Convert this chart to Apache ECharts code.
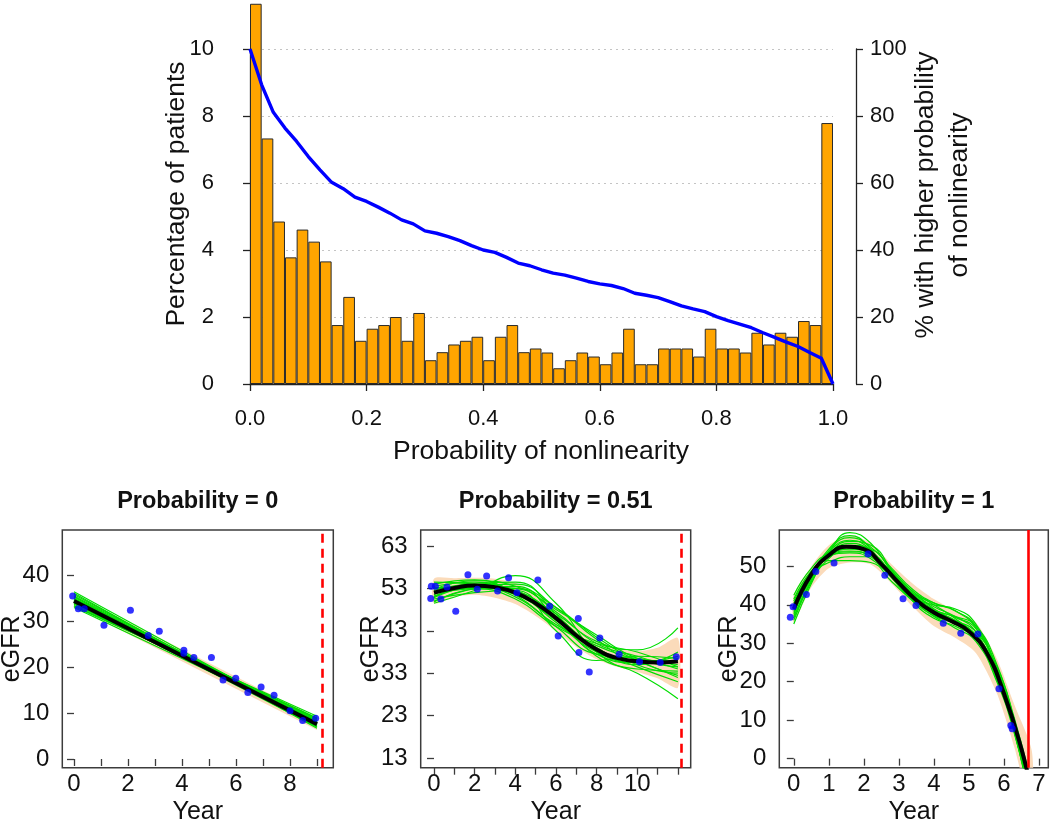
<!DOCTYPE html>
<html>
<head>
<meta charset="utf-8">
<script src="https://cdn.jsdelivr.net/npm/echarts@6/dist/echarts.min.js"></script>
<style>
  html, body { margin: 0; padding: 0; background: #fff; }
  #chart { width: 1050px; height: 822px; }
</style>
</head>
<body>
<div id="chart"></div>
<script>
// ---------------- DATA ----------------
// Top panel: histogram bin edges and % of patients per bin
const probEdges = [0.00,0.02,0.04,0.06,0.08,0.10,0.12,0.14,0.16,0.18,0.20,0.22,0.24,0.26,0.28,0.30,0.32,0.34,0.36,0.38,0.40,0.42,0.44,0.46,0.48,0.50,0.52,0.54,0.56,0.58,0.60,0.62,0.64,0.66,0.68,0.70,0.72,0.74,0.76,0.78,0.80,0.82,0.84,0.86,0.88,0.90,0.92,0.94,0.96,0.98,1.00];
const pctPatients = [11.35,7.33,4.85,3.78,4.61,4.25,3.66,1.76,2.60,1.29,1.65,1.76,2.00,1.29,2.12,0.71,0.95,1.18,1.29,1.41,0.71,1.41,1.76,0.95,1.06,0.94,0.47,0.71,0.94,0.82,0.59,0.94,1.65,0.59,0.59,1.06,1.06,1.06,0.82,1.65,1.06,1.06,0.94,1.53,1.18,1.53,1.41,1.88,1.76,7.79];
// % with higher probability of nonlinearity, at each bin edge
const pctHigher = [100,89.3,81.1,76.4,72.4,67.9,63.9,60.2,58.3,55.8,54.5,52.8,51.0,49.0,47.8,45.7,45.0,44.0,42.8,41.3,40.0,39.3,37.8,36.1,35.3,34.1,33.1,32.5,31.6,30.6,29.9,29.4,28.5,27.1,26.5,25.8,24.6,23.3,22.4,21.6,20.1,18.9,17.9,16.8,15.3,13.9,12.5,11.2,9.4,7.7,0];

// Panel 1: Probability = 0
const p1Title = 'Probability = 0';
const p1ObsYear = [-0.05,0.16,0.38,1.11,2.09,2.75,3.16,4.07,4.07,4.44,5.09,5.52,5.99,6.44,6.93,7.41,8.00,8.47,8.95];
const p1ObsGFR  = [35.5,32.7,32.7,29.1,32.4,26.9,27.8,23.7,23.0,22.1,22.1,17.2,17.6,14.5,15.7,13.9,10.5,8.4,8.9];
const p1FitYear = [0,9];
const p1Fit = [34.4,7.6];
const p1BandLow = [33.2,6.3];
const p1BandHigh = [35.8,9.0];
const p1Draws = [
  [34.2,7.9],[34.8,7.4],[33.7,8.3],[35.3,7.1],[34.5,8.6],[33.4,8.9],[36.1,6.7],[34.0,7.6],[35.5,7.8],
  [33.2,9.3],[34.9,8.1],[34.3,7.0],[35.8,7.3],[33.9,8.8],[34.6,7.7],[35.0,8.4],[36.4,7.5],[33.0,8.0]
];
const p1XTicks = [0,1,2,3,4,5,6,7,8,9];
const p1XLabels = [0,2,4,6,8];
const p1YTicks = [0,10,20,30,40];
const p1EndYear = 9.21;

// Panel 2: Probability = 0.51
const p2Title = 'Probability = 0.51';
const p2ObsYear = [-0.16,-0.13,0.07,0.34,0.64,1.07,1.67,2.13,2.59,3.13,3.67,4.08,5.11,5.69,6.11,7.10,7.13,7.64,8.16,9.11,10.11,11.13,11.92];
const p2ObsGFR  = [50.6,53.5,53.5,50.5,53.3,47.6,56.2,52.8,55.9,52.4,55.5,52.0,55.0,48.8,41.8,45.9,37.9,33.3,41.3,37.5,35.7,35.5,36.9];
const p2FitYear = [0,1,2,3,4,5,6,7,8,9,10,11,12];
const p2Fit = [52.0,53.1,53.7,53.3,52.0,49.5,46.0,41.9,38.6,36.6,35.8,35.5,35.8];
const p2DrawYear = [0,2,4,6,8,10,12];
const p2BandYear = [0,1,2,3,4,5,6,7,8,9,10,11,12];
const p2BandLow  = [49.5,51.0,51.5,50.8,49.3,46.5,43.0,39.2,36.3,34.5,33.3,31.8,29.6];
const p2BandHigh = [55.3,55.4,55.5,55.3,54.3,52.0,48.8,45.0,41.0,38.8,38.2,39.0,41.3];
const p2Draws = [
  [52.5,54.0,52.5,46.5,39.0,36.0,36.0],
  [51.0,53.5,53.0,47.5,40.0,37.0,34.0],
  [53.5,54.5,52.0,45.0,38.0,35.5,37.0],
  [50.0,53.0,54.0,48.5,41.0,35.0,33.0],
  [54.0,55.0,51.5,44.0,37.5,36.5,35.0],
  [49.5,52.5,56.0,49.5,38.0,34.0,33.5],
  [52.0,53.0,53.5,46.0,37.0,33.0,27.0],
  [51.5,54.0,52.5,47.0,40.5,38.5,43.7],
  [53.0,53.5,51.0,44.5,39.5,36.0,32.0],
  [50.5,52.0,52.5,43.0,36.0,37.0,36.5],
  [52.8,54.8,53.5,48.0,42.0,36.5,34.5],
  [51.2,53.2,51.5,45.5,39.0,35.0,38.0],
  [54.5,54.0,52.0,46.5,38.5,34.5,31.0],
  [50.8,53.8,54.5,47.0,37.5,35.5,36.0],
  [53.2,53.0,50.5,44.0,40.0,38.0,34.5],
  [49.8,52.8,53.0,48.5,41.5,36.0,32.5]
];
const p2XTicks = [0,1,2,3,4,5,6,7,8,9,10,11,12];
const p2XLabels = [0,2,4,6,8,10];
const p2YTicks = [13,23,33,43,53,63];
const p2EndYear = 12.15;

// Panel 3: Probability = 1
const p3Title = 'Probability = 1';
const p3ObsYear = [-0.10,-0.02,0.36,0.63,1.15,2.12,2.60,3.12,3.49,4.27,4.77,5.26,5.86,6.20,6.24];
const p3ObsGFR  = [36.8,39.5,42.7,48.7,50.9,53.2,47.7,41.6,39.8,35.2,32.6,32.4,18.2,8.6,7.8];
const p3FitYear = [0,0.5,1,1.5,2,2.5,3,3.5,4,4.5,5,5.5,6,6.5,6.8];
const p3Fit = [38.9,47.9,52.9,55.1,54.5,50.6,45.7,41.2,38.0,35.8,33.1,27.7,17.0,2.6,-9.0];
const p3DrawYear = [0,0.5,1,1.6,2.2,2.8,3.4,4,4.6,5.2,5.8,6.3,6.8];
const p3BandYear = [0,0.5,1,1.6,2.2,2.8,3.4,4,4.6,5.2,5.8,6.3,6.8];
const p3BandLow  = [35.5,44.5,49.5,51.0,50.5,45.5,39.5,34.5,31.5,27.5,17.0,3.0,-14.0];
const p3BandHigh = [42.5,50.0,55.5,58.0,56.0,50.5,45.5,41.5,38.5,35.5,26.0,14.0,2.0];
const p3Draws = [
  [38.0,47.0,53.0,56.0,54.0,48.0,42.5,38.5,36.0,32.0,22.0,9.0,-10],
  [42.5,49.5,53.0,53.5,52.0,47.0,41.5,37.5,35.0,31.5,22.0,8.0,-12],
  [35.0,45.5,53.5,58.8,56.0,48.5,42.0,38.0,35.5,32.0,21.0,7.0,-14],
  [40.0,48.5,51.5,51.5,51.0,46.0,41.0,37.0,34.0,30.5,20.0,6.5,-12],
  [37.0,46.5,54.0,57.5,55.0,49.5,44.0,40.5,38.5,34.5,23.0,9.5,-9],
  [39.5,48.0,53.5,55.5,53.5,47.5,43.0,40.5,38.5,34.0,22.5,8.0,-11],
  [36.0,46.0,53.0,56.5,55.5,49.0,41.0,36.5,34.5,31.0,21.5,8.5,-10],
  [41.0,48.0,51.0,52.5,52.5,48.0,43.5,39.0,36.0,33.0,24.0,10.5,-7],
  [38.5,47.5,54.5,58.0,54.5,47.0,41.5,38.5,37.0,34.5,24.5,10.0,-8],
  [37.5,47.0,52.5,54.5,53.0,48.5,43.0,39.5,37.0,33.0,21.0,7.0,-13],
  [40.5,48.0,53.0,54.0,52.5,47.5,42.0,40.0,39.0,35.0,23.0,8.5,-10],
  [36.5,46.0,52.0,55.5,54.5,49.0,43.5,40.0,36.5,31.5,20.5,7.5,-12],
  [39.0,47.5,53.8,56.8,54.2,47.2,41.2,37.2,35.2,32.2,22.5,9.0,-9.5],
  [41.5,48.8,52.5,53.8,53.2,48.2,42.8,38.8,36.8,33.8,23.5,9.5,-8.5]
];
const p3XTicks = [0,1,2,3,4,5,6,7];
const p3XLabels = [0,1,2,3,4,5,6,7];
const p3YTicks = [0,10,20,30,40,50];
const p3EndYear = 6.69;

// ---------------- CHART ----------------
const FONT = '"Liberation Sans", Arial, Helvetica, sans-serif';
const INK = '#111';
const BOX = '#3c3c3c';
const GREEN = '#00DD00';
const BAND = '#FBDBBA';

const binLabels = pctPatients.map((_, i) => probEdges[i].toFixed(2) + '-' + probEdges[i + 1].toFixed(2));
const pairs = (xs, ys) => xs.map((x, i) => [x, ys[i]]);

const chart = echarts.init(document.getElementById('chart'), null, { renderer: 'canvas' });

const panels = [
  { title: p1Title, obsX: p1ObsYear, obsY: p1ObsGFR, fitX: p1FitYear, fit: p1Fit, drawX: p1FitYear, draws: p1Draws,
    bandX: p1FitYear, low: p1BandLow, high: p1BandHigh, xTicks: p1XTicks, xLabels: p1XLabels, yTicks: p1YTicks, end: p1EndYear, dashed: true,
    grid: { left: 62.3, top: 530, width: 271, height: 237.7 }, xr: [-0.433, 9.604], yr: [-1.89, 49.86] },
  { title: p2Title, obsX: p2ObsYear, obsY: p2ObsGFR, fitX: p2FitYear, fit: p2Fit, drawX: p2DrawYear, draws: p2Draws,
    bandX: p2BandYear, low: p2BandLow, high: p2BandHigh, xTicks: p2XTicks, xLabels: p2XLabels, yTicks: p2YTicks, end: p2EndYear, dashed: true,
    grid: { left: 420.7, top: 530, width: 270, height: 237.7 }, xr: [-0.654, 12.63], yr: [10.72, 66.77] },
  { title: p3Title, obsX: p3ObsYear, obsY: p3ObsGFR, fitX: p3FitYear, fit: p3Fit, drawX: p3DrawYear, draws: p3Draws,
    bandX: p3BandYear, low: p3BandLow, high: p3BandHigh, xTicks: p3XTicks, xLabels: p3XLabels, yTicks: p3YTicks, end: p3EndYear, dashed: false,
    grid: { left: 779.3, top: 530, width: 269, height: 237.7 }, xr: [-0.414, 7.27], yr: [-2.35, 59.46] }
];

const grids = [{ left: 250, top: 49, width: 583, height: 335, containLabel: false }];
const xAxes = [
  { type: 'value', gridIndex: 0, min: 0, max: 1, interval: 0.2, offset: 14.7,
    axisLine: { show: true, lineStyle: { color: '#222', width: 1.3 } },
    axisTick: { show: true, length: 7, lineStyle: { color: '#222', width: 1.3 } },
    axisLabel: { fontFamily: FONT, fontSize: 22, color: INK, margin: 9, formatter: v => v.toFixed(1) },
    splitLine: { show: false } },
  { type: 'category', gridIndex: 0, data: binLabels, show: false, boundaryGap: true }
];
const yAxes = [
  { type: 'value', gridIndex: 0, position: 'left', min: 0, max: 10, interval: 2, offset: 23,
    axisLine: { show: true, lineStyle: { color: '#222', width: 1.3 } },
    axisTick: { show: true, length: 7, lineStyle: { color: '#222', width: 1.3 } },
    axisLabel: { fontFamily: FONT, fontSize: 22, color: INK, margin: 13 },
    splitLine: { show: true, lineStyle: { color: '#c4c4c4', width: 1, type: [2, 4] } } },
  { type: 'value', gridIndex: 0, position: 'right', min: 0, max: 100, interval: 20, offset: 23,
    axisLine: { show: true, lineStyle: { color: '#222', width: 1.3 } },
    axisTick: { show: true, length: 7, lineStyle: { color: '#222', width: 1.3 } },
    axisLabel: { fontFamily: FONT, fontSize: 22, color: INK, margin: 14 },
    splitLine: { show: false } }
];

const series = [
  { type: 'bar', name: 'Percentage of patients', xAxisIndex: 1, yAxisIndex: 0, data: pctPatients,
    barWidth: '100%', clip: false, silent: true, z: 2,
    itemStyle: { color: '#FFA500', borderColor: '#2a2a2a', borderWidth: 1 } },
  { type: 'line', name: '% with higher probability', xAxisIndex: 0, yAxisIndex: 1, data: pairs(probEdges, pctHigher),
    symbol: 'none', silent: true, z: 5, lineStyle: { color: '#0000FF', width: 3.4 } }
];

const graphics = [
  { type: 'text', x: 177, y: 194, rotation: Math.PI / 2,
    style: { text: 'Percentage of patients', font: '26.5px ' + FONT, fill: INK, align: 'center', verticalAlign: 'middle' } },
  { type: 'text', x: 943, y: 195, rotation: Math.PI / 2,
    style: { text: '% with higher probability\nof nonlinearity', font: '26.5px ' + FONT, lineHeight: 34, fill: INK, align: 'center', verticalAlign: 'middle' } },
  { type: 'text', x: 541, y: 452,
    style: { text: 'Probability of nonlinearity', font: '26.5px ' + FONT, fill: INK, align: 'center', verticalAlign: 'middle' } }
];

panels.forEach((p, k) => {
  const gi = k + 1;      // grid index
  const ai = k + 2;      // axis index
  grids.push(Object.assign({ show: true, borderColor: BOX, borderWidth: 1.5, backgroundColor: 'transparent' }, p.grid));
  xAxes.push({ type: 'value', gridIndex: gi, min: p.xr[0], max: p.xr[1],
    axisLine: { show: false },
    axisTick: { show: true, length: 7, customValues: p.xTicks, lineStyle: { color: BOX, width: 1.3 } },
    axisLabel: { show: true, customValues: p.xLabels, fontFamily: FONT, fontSize: 24, color: INK, margin: 5 },
    splitLine: { show: false } });
  yAxes.push({ type: 'value', gridIndex: gi, min: p.yr[0], max: p.yr[1],
    axisLine: { show: false },
    axisTick: { show: true, length: 7, customValues: p.yTicks, lineStyle: { color: BOX, width: 1.3 } },
    axisLabel: { show: true, customValues: p.yTicks, fontFamily: FONT, fontSize: 24, color: INK, margin: 13 },
    splitLine: { show: false } });

  // credible band: polygon through upper edge then lower edge, via the axis scales
  const bx = p.bandX, lo = p.low, hi = p.high;
  series.push({ type: 'custom', xAxisIndex: ai, yAxisIndex: ai, silent: true, clip: true, z: 1,
    data: pairs(bx, lo),
    renderItem: (params, api) => {
      if (params.dataIndex !== 0) return null;
      const up = bx.map((x, i) => api.coord([x, hi[i]]));
      const dn = bx.map((x, i) => api.coord([x, lo[i]])).reverse();
      return { type: 'polygon', shape: { points: up.concat(dn), smooth: bx.length > 2 ? 0.25 : 0 },
               style: { fill: BAND, stroke: null } };
    } });

  p.draws.forEach(d => {
    series.push({ type: 'line', xAxisIndex: ai, yAxisIndex: ai, smooth: true, symbol: 'none', silent: true, z: 2,
      data: pairs(p.drawX, d), lineStyle: { color: GREEN, width: 1.2 } });
  });
  series.push({ type: 'line', xAxisIndex: ai, yAxisIndex: ai, smooth: true, symbol: 'none', silent: true, z: 3,
    data: pairs(p.fitX, p.fit), lineStyle: { color: '#000', width: 4 } });
  series.push({ type: 'scatter', xAxisIndex: ai, yAxisIndex: ai, silent: true, z: 4,
    data: pairs(p.obsX, p.obsY), symbolSize: 7, itemStyle: { color: '#0000FF' },
    markLine: { silent: true, symbol: ['none', 'none'], label: { show: false },
      lineStyle: { color: '#FF0000', width: 2.6, type: p.dashed ? [9, 6] : 'solid' },
      data: [{ xAxis: p.end }] } });

  const cx = p.grid.left + p.grid.width / 2;
  graphics.push({ type: 'text', x: cx, y: 502,
    style: { text: p.title, font: 'bold 23.5px ' + FONT, fill: INK, align: 'center', verticalAlign: 'middle' } });
  graphics.push({ type: 'text', x: cx, y: 812,
    style: { text: 'Year', font: '25px ' + FONT, fill: INK, align: 'center', verticalAlign: 'middle' } });
  graphics.push({ type: 'text', x: p.grid.left - 50, y: p.grid.top + p.grid.height / 2, rotation: Math.PI / 2,
    style: { text: 'eGFR', font: '25px ' + FONT, fill: INK, align: 'center', verticalAlign: 'middle' } });
});

chart.setOption({
  animation: false,
  backgroundColor: '#fff',
  grid: grids,
  xAxis: xAxes,
  yAxis: yAxes,
  series: series,
  graphic: graphics
});
</script>
</body>
</html>
